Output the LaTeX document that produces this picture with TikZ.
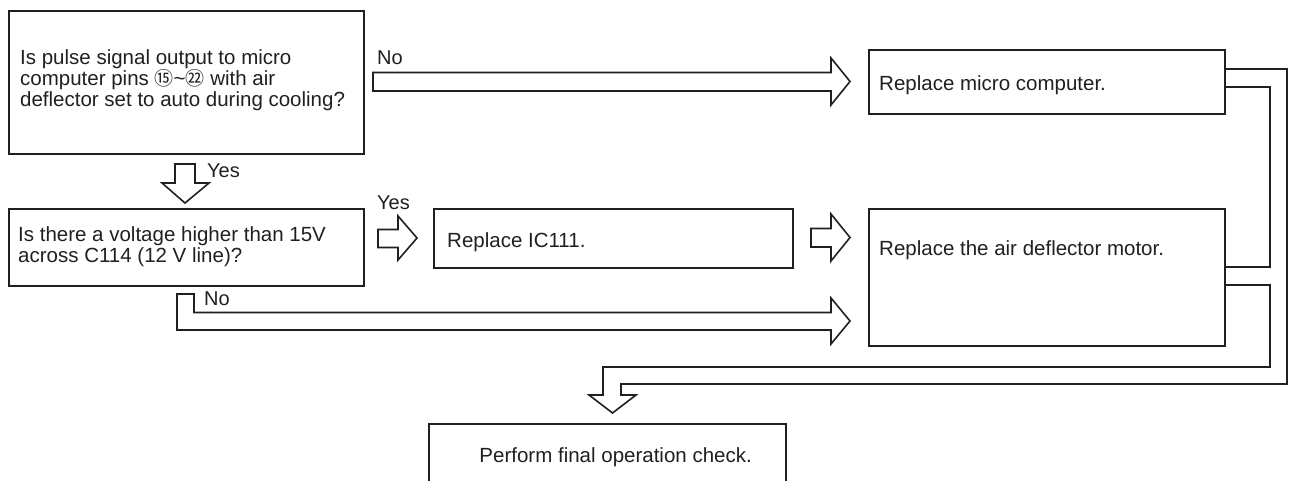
\documentclass[tikz,border=0pt]{standalone}
\usepackage{fontspec}
\setmainfont{Liberation Sans}
\newfontfamily\cjk{Noto Sans CJK JP}
\definecolor{ink}{RGB}{35,31,32}
\begin{document}
\begin{tikzpicture}[x=1pt,y=-1pt,
  box/.style={draw=ink,line width=1.6pt,fill=white,inner sep=0pt,anchor=north west},
  txt/.style={inner sep=0pt,text=ink,font=\fontsize{20.5}{21}\selectfont,align=left},
  lbl/.style={inner sep=0pt,text=ink,font=\fontsize{20}{20}\selectfont,anchor=base west},
  barrow/.style={draw=ink,line width=1.6pt,fill=white,line join=miter},
  bline/.style={draw=ink,line width=1.6pt,line join=miter}]
\useasboundingbox (0,0) rectangle (1292,481);
\clip (0,0) rectangle (1292,481);
\fill[white] (0,0) rectangle (1292,481);
% boxes
\node[box,minimum width=355pt,minimum height=143pt] (q1) at (8,10) {};
\node[box,minimum width=355pt,minimum height=77pt] (q2) at (8,208) {};
\node[box,minimum width=356pt,minimum height=64pt] (rm) at (868,49) {};
\node[box,minimum width=359pt,minimum height=59pt] (ric) at (433,208) {};
\node[box,minimum width=356pt,minimum height=137pt] (rmot) at (868,208) {};
\node[box,minimum width=357pt,minimum height=90pt] (fin) at (428,423) {};
% texts
\node[txt,anchor=west] (t1) at (20,80) {Is pulse signal output to micro\\computer pins {\cjk\fontsize{19}{19}\selectfont ⑮}\textasciitilde{\cjk\fontsize{19}{19}\selectfont ㉒} with air\\deflector set to auto during cooling?};
\node[txt,anchor=west] (t2) at (18,247) {Is there a voltage higher than 15V\\across C114 (12 V line)?};
\node[txt,anchor=base west] (t3) at (879,91) {Replace micro computer.};
\node[txt,anchor=base west] (t4) at (447,247) {Replace IC111.};
\node[txt,anchor=base west] (t5) at (879,255) {Replace the air deflector motor.};
\node[txt,anchor=base east] (t6) at (752,462) {Perform final operation check.};
% labels
\node[lbl] (lno1) at (377,65) {No};
\node[lbl] (lyes1) at (207,178) {Yes};
\node[lbl] (lyes2) at (377,209) {Yes};
\node[lbl] (lno2) at (204,305) {No};
% block arrows
\draw[barrow] (373,72.5) -- (831,72.5) -- (831,58) -- (850,81.5) -- (831,105) -- (831,91) -- (373,91) -- cycle;
\draw[barrow] (175,164) -- (195,164) -- (195,183) -- (209,183) -- (185,203) -- (162,183) -- (175,183) -- cycle;
\draw[barrow] (378,229.5) -- (398,229.5) -- (398,216) -- (417,238) -- (398,260) -- (398,247.5) -- (378,247.5) -- cycle;
\draw[barrow] (811,228.5) -- (831,228.5) -- (831,214) -- (850,237.5) -- (831,261) -- (831,247) -- (811,247) -- cycle;
\draw[barrow] (177,330) -- (177,294) -- (194,294) -- (194,312.5) -- (831,312.5) -- (831,298) -- (850,321) -- (831,344) -- (831,330) -- cycle;
% return loop to final check
\draw[bline] (rm.east |- 0,69) -- (1287,69) -- (1287,384) -- (621,384) -- (621,395) -- (636,395) -- (612.5,413) -- (589,395) -- (603,395) -- (603,367) -- (1270,367) -- (1270,285) -- (rmot.east |- 0,285);
\draw[bline] (rm.east |- 0,87) -- (1270,87) -- (1270,267) -- (rmot.east |- 0,267);
\end{tikzpicture}
\end{document}
